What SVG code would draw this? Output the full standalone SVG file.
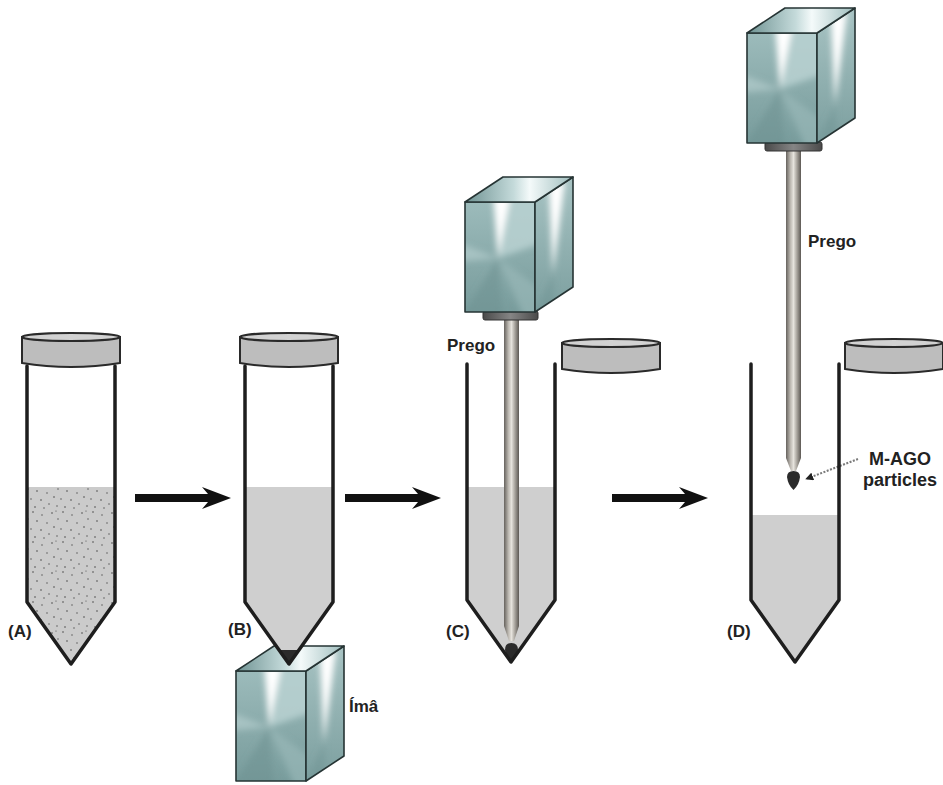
<svg xmlns="http://www.w3.org/2000/svg" width="943" height="785" viewBox="0 0 943 785">
  <defs>
    <style>
      .wall{fill:none;stroke:#1e1e1e;stroke-width:3.5;stroke-linejoin:round;stroke-linecap:round}
      .fluid{fill:#cfcfcf}
      .cap{fill:#bdbdbd;stroke:#2a2a2a;stroke-width:2}
      .capTop{fill:#d2d2d2;stroke:#2a2a2a;stroke-width:2}
      .lbl{font-family:"Liberation Sans",Arial,sans-serif;font-weight:bold;font-size:17px;fill:#222}
      .edge{fill:none;stroke:#263434;stroke-width:1.6;stroke-linejoin:round}
      .arrow{fill:#111}
      .nail{fill:url(#steel)}
      .plate{fill:url(#plateGrad);stroke:#333;stroke-width:1}
      .blob{fill:#2b2b2b}
    </style>

    <!-- metal shading -->
    <linearGradient id="frontBase" x1="0" y1="0" x2="0" y2="1">
      <stop offset="0" stop-color="#9cbbbb"/>
      <stop offset="0.5" stop-color="#8aabab"/>
      <stop offset="1" stop-color="#789c9c"/>
    </linearGradient>
    <linearGradient id="sideBase" x1="0" y1="0" x2="0" y2="1">
      <stop offset="0" stop-color="#a7c3c3"/>
      <stop offset="1" stop-color="#7c9f9f"/>
    </linearGradient>
    <linearGradient id="topBase" x1="0" y1="0" x2="1" y2="0">
      <stop offset="0" stop-color="#6e9292"/>
      <stop offset="0.45" stop-color="#c4dada"/>
      <stop offset="0.6" stop-color="#f4fafa"/>
      <stop offset="1" stop-color="#9ebdbd"/>
    </linearGradient>
    <linearGradient id="steel" x1="0" y1="0" x2="1" y2="0">
      <stop offset="0" stop-color="#66625d"/>
      <stop offset="0.3" stop-color="#bdb9b2"/>
      <stop offset="0.5" stop-color="#e6e3dd"/>
      <stop offset="0.72" stop-color="#aaa69f"/>
      <stop offset="1" stop-color="#5c5853"/>
    </linearGradient>
    <linearGradient id="plateGrad" x1="0" y1="0" x2="1" y2="0">
      <stop offset="0" stop-color="#4a4a4a"/>
      <stop offset="0.5" stop-color="#858585"/>
      <stop offset="1" stop-color="#4a4a4a"/>
    </linearGradient>
    <filter id="soft" x="-30%" y="-30%" width="160%" height="160%">
      <feGaussianBlur stdDeviation="3"/>
    </filter>
    <clipPath id="clipFront"><rect width="70" height="110"/></clipPath>
    <clipPath id="clipSide"><polygon points="70,0 108,-25 108,85 70,110"/></clipPath>

    <!-- grainy suspension -->
    <pattern id="grains" width="30" height="30" patternUnits="userSpaceOnUse">
      <rect width="30" height="30" fill="#cbcbcb"/>
      <g fill="#4a4a4a">
        <circle cx="3" cy="2" r="0.8"/><circle cx="12" cy="5" r="0.7"/><circle cx="22" cy="3" r="0.8"/>
        <circle cx="28" cy="9" r="0.7"/><circle cx="7" cy="11" r="0.8"/><circle cx="17" cy="13" r="0.7"/>
        <circle cx="1" cy="19" r="0.7"/><circle cx="11" cy="20" r="0.8"/><circle cx="24" cy="17" r="0.8"/>
        <circle cx="19" cy="24" r="0.7"/><circle cx="5" cy="27" r="0.8"/><circle cx="27" cy="26" r="0.7"/>
        <circle cx="14" cy="28" r="0.7"/><circle cx="26" cy="1" r="0.6"/>
      </g>
    </pattern>

    <marker id="tip" viewBox="0 0 10 10" refX="9" refY="5" markerWidth="4" markerHeight="4" orient="auto">
      <path d="M0,0 L10,5 L0,10 Z" fill="#222"/>
    </marker>

    <!-- magnet block: front face 70x110, depth offset (38,-25) -->
    <g id="magnet">
      <rect width="70" height="110" fill="url(#frontBase)"/>
      <g clip-path="url(#clipFront)">
        <g filter="url(#soft)">
          <polygon points="33,56 44,-8 80,-8 80,40" fill="#b8d1d1" opacity="0.85"/>
          <polygon points="33,56 28,-8 46,-8" fill="#ffffff"/>
          <polygon points="33,56 -8,40 -8,60" fill="#b2cccc" opacity="0.7"/>
          <polygon points="33,56 -5,118 38,118" fill="#6d9191" opacity="0.55"/>
          <polygon points="33,56 60,118 80,118 80,90" fill="#9dbaba" opacity="0.6"/>
        </g>
      </g>
      <rect width="70" height="110" class="edge"/>
      <polygon points="70,0 108,-25 108,85 70,110" fill="url(#sideBase)"/>
      <g clip-path="url(#clipSide)">
        <g filter="url(#soft)">
          <polygon points="88,72 84,-15 100,-22" fill="#ffffff"/>
          <polygon points="88,72 70,110 90,110" fill="#6f9494" opacity="0.5"/>
        </g>
      </g>
      <polygon points="70,0 108,-25 108,85 70,110" class="edge"/>
      <polygon points="0,0 38,-25 108,-25 70,0" class="edge" style="fill:url(#topBase)"/>
    </g>

    <!-- tube cap: top ellipse over a short cylinder -->
    <g id="cap">
      <path class="cap" d="M0,5 L0,31 Q49,39 98,31 L98,5 Z"/>
      <ellipse class="capTop" cx="49" cy="5" rx="49" ry="4"/>
    </g>

    <!-- conical tube outline -->
    <path id="tubeOpen" class="wall" d="M0,0 V236 L44,298 L88,236 V0"/>
  </defs>

  <!-- connectors: process arrows -->
  <g id="connectors">
    <path class="arrow" d="M135,494 H208 L202,487 L231,498 L202,509 L208,502 H135 Z"/>
    <path class="arrow" d="M345,494 H418 L412,487 L441,498 L412,509 L418,502 H345 Z"/>
    <path class="arrow" d="M612,494 H685 L679,487 L708,498 L679,509 L685,502 H612 Z"/>
    <line x1="858" y1="459" x2="806" y2="479" stroke="#7a7a7a" stroke-width="2" stroke-dasharray="2 1.5" marker-end="url(#tip)"/>
  </g>

  <!-- (A) tube with suspended particles -->
  <g id="tube-a">
    <path d="M27,487 H115 V602 L71,664 L27,602 Z" fill="url(#grains)"/>
    <use href="#tubeOpen" x="27" y="366"/>
    <use href="#cap" x="22" y="332"/>
    <text class="lbl" x="8" y="637">(A)</text>
  </g>

  <!-- magnet under tube (B) -->
  <g id="magnet-b">
    <use href="#magnet" transform="translate(236,671)"/>
    <text class="lbl" x="349" y="712">Ímâ</text>
  </g>

  <!-- (B) tube, particles pulled to the tip -->
  <g id="tube-b">
    <path class="fluid" d="M245,487 H333 V602 L289,664 L245,602 Z"/>
    <path class="blob" d="M279,650 H299 L289,664 Z"/>
    <use href="#tubeOpen" x="245" y="366"/>
    <use href="#cap" x="240" y="332"/>
    <text class="lbl" x="228" y="635">(B)</text>
  </g>

  <!-- (C) open tube with nail inserted -->
  <g id="tube-c">
    <path class="fluid" d="M467,487 H555 V600 L511,662 L467,600 Z"/>
    <path class="nail" d="M504,318 H519 V626 L514,641 H509 L504,626 Z"/>
    <path class="blob" d="M505,650 Q505,643 511.5,643 Q518,643 518,650 Q517,657 511.5,661 Q506,657 505,650 Z"/>
    <use href="#tubeOpen" x="467" y="364"/>
    <use href="#cap" x="562" y="338"/>
    <text class="lbl" x="446" y="637">(C)</text>
    <text class="lbl" x="447" y="351">Prego</text>
  </g>

  <g id="magnet-c">
    <rect class="plate" x="483" y="311" width="55" height="9" rx="2"/>
    <use href="#magnet" transform="translate(465,202)"/>
  </g>

  <!-- (D) nail lifted out carrying the particles -->
  <g id="tube-d">
    <path class="fluid" d="M751,515 H839 V600 L795,662 L751,600 Z"/>
    <use href="#tubeOpen" x="751" y="364"/>
    <use href="#cap" x="845" y="338"/>
    <text class="lbl" x="727" y="637">(D)</text>
  </g>

  <g id="nail-d">
    <path class="nail" d="M786,150 H801 V458 L796,471 H791 L786,458 Z"/>
    <path class="blob" d="M787,477 Q787,471 793.5,471 Q800,471 800,477 Q799,485 793.5,490 Q788,485 787,477 Z"/>
    <text class="lbl" x="808" y="247">Prego</text>
  </g>

  <g id="magnet-d">
    <rect class="plate" x="765" y="142" width="57" height="9" rx="2"/>
    <use href="#magnet" transform="translate(747,33)"/>
  </g>

  <g id="label-particles">
    <text class="lbl" x="900" y="465" text-anchor="middle" style="font-size:18px">M-AGO</text>
    <text class="lbl" x="900" y="486" text-anchor="middle" style="font-size:18px">particles</text>
  </g>
</svg>
